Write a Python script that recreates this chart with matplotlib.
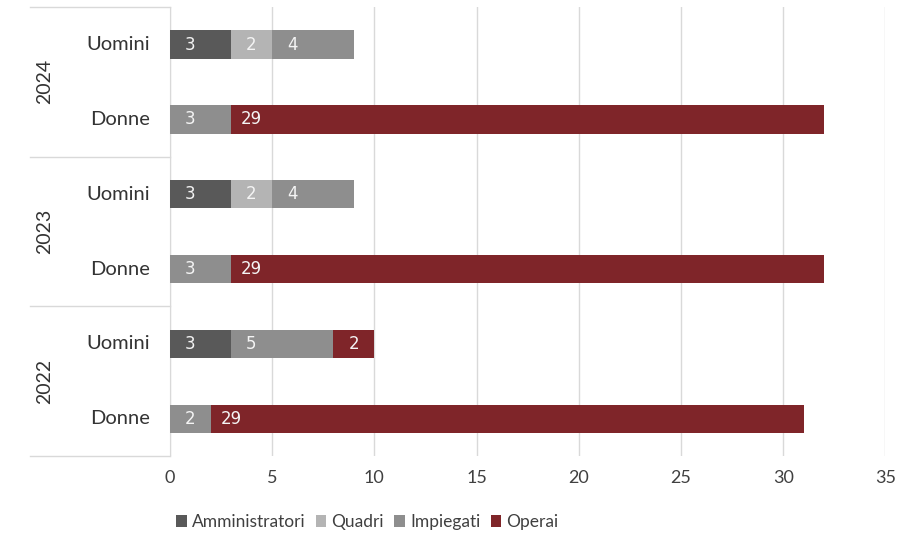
# -*- coding: utf-8 -*-

# grafico a barre orizzontali impilate: personale per anno e genere

import numpy as np
import matplotlib.pyplot as plt
from matplotlib.transforms import blended_transform_factory

plt.rcParams['font.family'] = ['Lato', 'DejaVu Sans']

# dati (ordine dall'alto: 2024 Uomini, 2024 Donne, 2023 Uomini, ...)
years = ['2024', '2023', '2022']
genders = ['Uomini', 'Donne']
amministratori = [3, 0, 3, 0, 3, 0]
quadri = [2, 0, 2, 0, 0, 0]
impiegati = [4, 3, 4, 3, 5, 2]
operai = [0, 29, 0, 29, 2, 29]

series = [('Amministratori', amministratori, '#595959'),
          ('Quadri', quadri, '#b4b4b4'),
          ('Impiegati', impiegati, '#8e8e8e'),
          ('Operai', operai, '#7f2529')]

fig = plt.figure(figsize=(9.09, 5.45), dpi=100)
ax = fig.add_axes([0.187, 0.163, 0.787, 0.824])

n = len(years) * len(genders)
ypos = np.arange(n)
left = np.zeros(n)
for name, vals, col in series:
    vals = np.array(vals, dtype=float)
    ax.barh(ypos, vals, left=left, height=0.38, color=col, label=name, zorder=3)
    for y, l, v in zip(ypos, left, vals):
        if v > 0:
            ax.annotate('%d' % v, (l, y), xytext=(14.5, 0), textcoords='offset points',
                        ha='center', va='center', color='#f4f4f4', fontsize=12,
                        family='DejaVu Sans', zorder=4)
    left += vals

ax.set_xlim(0, 35)
ax.set_ylim(n - 0.5, -0.5)
ax.set_xticks(np.arange(0, 36, 5))
ax.tick_params(axis='x', length=0, labelsize=13, labelcolor='#404040', pad=10)
ax.set_yticks([])
ax.xaxis.grid(True, color='#d9d9d9', linewidth=1, zorder=0)
for s in ['top', 'right', 'bottom']:
    ax.spines[s].set_visible(False)
ax.spines['left'].set_color('#d9d9d9')

# etichette di categoria a due livelli
trans = blended_transform_factory(ax.transAxes, ax.transData)
for i in range(n):
    ax.text(-0.028, ypos[i], genders[i % 2], transform=trans, ha='right', va='center',
            fontsize=14.5, color='#333333')
for k, yr in enumerate(years):
    ax.text(-0.175, 2 * k + 0.5, yr, transform=trans, rotation=90, ha='center',
            va='center', fontsize=14, color='#333333')
for b in np.arange(-0.5, n, 2):
    ax.plot([-0.196, 0], [b, b], transform=trans, color='#d9d9d9', linewidth=1,
            clip_on=False)

fig.legend(loc='center', bbox_to_anchor=(0.404, 0.042), ncol=4, frameon=False,
           fontsize=12.5, handlelength=0.6, handleheight=0.6, handletextpad=0.3,
           columnspacing=0.6, labelcolor='#404040')

fig.savefig('out.png', dpi=100)
